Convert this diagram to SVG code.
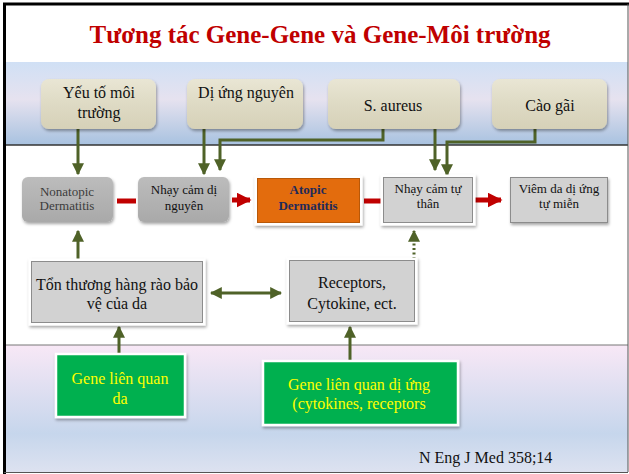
<svg xmlns="http://www.w3.org/2000/svg" width="629" height="474" viewBox="0 0 629 474">
<defs>
<linearGradient id="bandTop" x1="0" y1="0" x2="0" y2="1">
<stop offset="0" stop-color="#d0e0f5"/>
<stop offset="0.45" stop-color="#e6e2ef"/>
<stop offset="1" stop-color="#a8c2e0"/>
</linearGradient>
<linearGradient id="bandBot" x1="0" y1="0" x2="0" y2="1">
<stop offset="0" stop-color="#f8e8f6"/>
<stop offset="0.7" stop-color="#c6d6ec"/>
<stop offset="1" stop-color="#dde2f0"/>
</linearGradient>
<linearGradient id="beige" x1="0" y1="0" x2="0" y2="1">
<stop offset="0" stop-color="#e9e6d4"/>
<stop offset="0.5" stop-color="#dedac4"/>
<stop offset="1" stop-color="#d6d1b8"/>
</linearGradient>
<linearGradient id="dgray" x1="0" y1="0" x2="0" y2="1">
<stop offset="0" stop-color="#bcbcbc"/>
<stop offset="1" stop-color="#a9a9a9"/>
</linearGradient>
<filter id="sh" x="-10%" y="-10%" width="125%" height="130%">
<feDropShadow dx="1" dy="2" stdDeviation="1.5" flood-color="#000" flood-opacity="0.35"/>
</filter>
<marker id="ag" viewBox="0 0 10 10" refX="9" refY="5" markerWidth="4" markerHeight="4" orient="auto-start-reverse">
<path d="M0,0 L10,5 L0,10 z" fill="#4f6228"/>
</marker>
<marker id="ar" viewBox="0 0 10 10" refX="9" refY="5" markerWidth="3" markerHeight="3" orient="auto">
<path d="M0,0 L10,5 L0,10 z" fill="#c00000"/>
</marker>
<style>
.t{text-anchor:middle;fill:#111}
.top{font-size:16px}
.mid{font-size:13px}
.big{font-size:16px}
.grn{font-size:16px;fill:#ffff00}
.g{fill:none;stroke:#4f6228;stroke-width:3}
.r{fill:none;stroke:#c00000;stroke-width:5}
.beige{fill:url(#beige);filter:url(#sh)}
.lg{fill:#d2d2d2;stroke:#ffffff;stroke-width:3;filter:url(#sh)}
.lgi{fill:none;stroke:#8c8c8c;stroke-width:1}
</style>
</defs>

<!-- background bands -->
<rect x="0" y="0" width="629" height="474" fill="#ffffff"/>
<rect x="5" y="62" width="623" height="83" fill="url(#bandTop)"/>
<line x1="5" y1="145" x2="628" y2="145" stroke="#333" stroke-width="1.5"/>
<rect x="5" y="345" width="623" height="127" fill="url(#bandBot)"/>
<line x1="5" y1="345" x2="628" y2="345" stroke="#777" stroke-width="1"/>
<!-- frame -->
<line x1="3" y1="4" x2="629" y2="4" stroke="#000" stroke-width="3"/>
<line x1="4.5" y1="3" x2="4.5" y2="474" stroke="#000" stroke-width="3"/>
<line x1="628" y1="4" x2="628" y2="472" stroke="#555" stroke-width="1"/>
<line x1="4" y1="472.5" x2="628" y2="472.5" stroke="#555" stroke-width="1"/>

<g font-family="Liberation Serif">
<text x="320" y="43" font-size="25" font-weight="bold" fill="#c00000" text-anchor="middle">Tương tác Gene-Gene và Gene-Môi trường</text>

<g id="connectors">
<line class="g" x1="78" y1="129" x2="78" y2="174" marker-end="url(#ag)"/>
<line class="g" x1="204" y1="129" x2="204" y2="174" marker-end="url(#ag)"/>
<polyline class="g" points="383,129 383,140 220,140 220,170" marker-end="url(#ag)"/>
<line class="g" x1="435" y1="129" x2="435" y2="170" marker-end="url(#ag)"/>
<polyline class="g" points="535,129 535,142 447,142 447,175" marker-end="url(#ag)"/>
<line class="r" x1="117" y1="201" x2="136" y2="201"/>
<line class="r" x1="232" y1="200" x2="250" y2="200" marker-end="url(#ar)"/>
<line class="r" x1="364" y1="201" x2="382" y2="201"/>
<line class="r" x1="475" y1="200" x2="501" y2="200" marker-end="url(#ar)"/>
<line class="g" x1="78" y1="259" x2="78" y2="231" marker-end="url(#ag)"/>
<line class="g" x1="211" y1="293" x2="281" y2="293" marker-start="url(#ag)" marker-end="url(#ag)"/>
<line class="g" x1="414" y1="259" x2="414" y2="231" stroke-dasharray="2,2.5" marker-end="url(#ag)"/>
<line class="g" x1="119" y1="354" x2="119" y2="327" marker-end="url(#ag)"/>
<line class="g" x1="350" y1="360" x2="350" y2="327" marker-end="url(#ag)"/>
</g>

<g id="n-yeuto">
<rect class="beige" x="41" y="79" width="115" height="50" rx="8"/>
<text class="t top" x="99" y="98">Yếu tố môi</text>
<text class="t top" x="99" y="118">trường</text>
</g>
<g id="n-diung">
<rect class="beige" x="187" y="79" width="116" height="50" rx="8"/>
<text class="t top" x="246" y="98">Dị ứng nguyên</text>
</g>
<g id="n-saureus">
<rect class="beige" x="328" y="79" width="132" height="50" rx="8"/>
<text class="t top" x="393" y="111">S. aureus</text>
</g>
<g id="n-caogai">
<rect class="beige" x="492" y="79" width="115" height="50" rx="8"/>
<text class="t top" x="550" y="111">Cào gãi</text>
</g>

<g id="n-nonatopic">
<rect x="22" y="177" width="91" height="45" rx="6" fill="url(#dgray)" filter="url(#sh)"/>
<text class="t mid" x="67" y="196" style="fill:#3c3c3c">Nonatopic</text>
<text class="t mid" x="67" y="210" style="fill:#3c3c3c">Dermatitis</text>
</g>
<g id="n-nhaycamdi">
<rect x="138" y="177" width="91" height="45" rx="6" fill="url(#dgray)" filter="url(#sh)"/>
<text class="t mid" x="184" y="194">Nhạy cảm dị</text>
<text class="t mid" x="184" y="210">nguyên</text>
</g>
<g id="n-atopic">
<rect x="256" y="177" width="105" height="47" fill="#e36c0a" stroke="#ffffff" stroke-width="3" filter="url(#sh)"/>
<rect x="257.5" y="178.5" width="102" height="44" fill="none" stroke="#b85808" stroke-width="1"/>
<text class="t mid" x="308" y="194" font-weight="bold" style="fill:#1f2a5a">Atopic</text>
<text class="t mid" x="308" y="210" font-weight="bold" style="fill:#1f2a5a">Dermatitis</text>
</g>
<g id="n-nhaycamtu">
<rect class="lg" x="382" y="176" width="92" height="48"/>
<rect class="lgi" x="383.5" y="177.5" width="89" height="45"/>
<text class="t mid" x="428" y="193">Nhạy cảm tự</text>
<text class="t mid" x="428" y="208">thân</text>
</g>
<g id="n-viemda">
<rect x="510" y="177" width="98" height="46" fill="#d2d2d2" filter="url(#sh)"/>
<rect class="lgi" x="510.5" y="177.5" width="97" height="45"/>
<text class="t mid" x="559" y="193">Viêm da dị ứng</text>
<text class="t mid" x="559" y="208">tự miễn</text>
</g>

<g id="n-tonthuong">
<rect class="lg" x="30" y="260" width="174" height="64"/>
<rect class="lgi" x="31.5" y="261.5" width="171" height="61"/>
<text class="t big" x="117" y="290">Tổn thương hàng rào bảo</text>
<text class="t big" x="117" y="309">vệ của da</text>
</g>
<g id="n-receptors">
<rect class="lg" x="288" y="259" width="128" height="64"/>
<rect class="lgi" x="289.5" y="260.5" width="125" height="61"/>
<text class="t big" x="352" y="288">Receptors,</text>
<text class="t big" x="352" y="309">Cytokine, ect.</text>
</g>

<g id="n-genda">
<rect x="56" y="354" width="129" height="63" fill="#00b050" stroke="#ffffff" stroke-width="2.5" filter="url(#sh)"/>
<text class="t grn" x="120" y="384">Gene liên quan</text>
<text class="t grn" x="120" y="404">da</text>
</g>
<g id="n-gendiung">
<rect x="263" y="361" width="195" height="64" fill="#00b050" stroke="#ffffff" stroke-width="2.5" filter="url(#sh)"/>
<text class="t grn" x="359" y="390">Gene liên quan dị ứng</text>
<text class="t grn" x="359" y="409">(cytokines, receptors</text>
</g>

<text x="419" y="463" font-size="16" fill="#111">N Eng J Med 358;14</text>
</g>
</svg>
